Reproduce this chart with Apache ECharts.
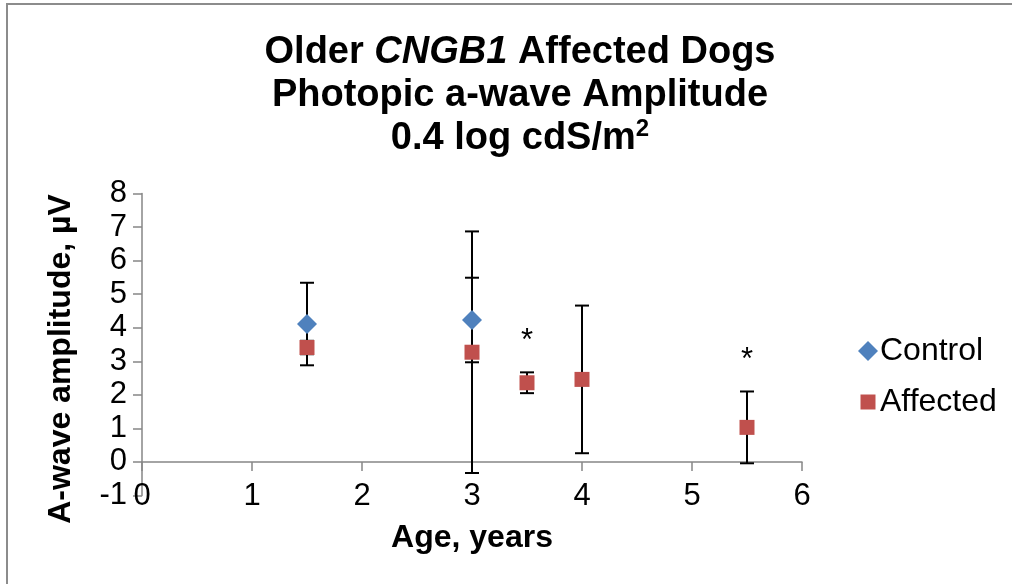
<!DOCTYPE html>
<html>
<head>
<meta charset="utf-8">
<script src="https://cdn.jsdelivr.net/npm/echarts@6/dist/echarts.min.js"></script>
<style>
  html, body { margin: 0; padding: 0; background: #fff; }
  #chart { width: 1012px; height: 584px; }
</style>
</head>
<body>
<div id="chart"></div>
<script>
// Photopic a-wave amplitude (µV) by age (years), mean ± error
const controlAge = [1.5, 3];
const controlMean = [4.11, 4.23];
const controlErr = [1.23, 1.26];

const affectedAge = [1.5, 3, 3.5, 4, 5.5];
const affectedMean = [3.41, 3.27, 2.36, 2.46, 1.03];
const affectedErr = [0.2, 3.6, 0.31, 2.2, 1.07];
// groups marked with a significance asterisk
const affectedSignificant = [0, 0, 1, 0, 1];

const xRange = [0, 6];
const yRange = [-1, 8];

const FONT = '"Liberation Sans", Arial, Helvetica, sans-serif';
const AXIS_GRAY = '#868686';

function errorRows(ages, means, errs, flags) {
  return ages.map((a, i) => [a, means[i] - errs[i], means[i] + errs[i], flags ? flags[i] : 0]);
}

function renderErrorBar(params, api) {
  const x = api.value(0);
  const top = api.coord([x, api.value(2)]);
  const bot = api.coord([x, api.value(1)]);
  const half = 7;
  const s = { stroke: '#000', lineWidth: 2 };
  const children = [
    { type: 'line', shape: { x1: top[0], y1: top[1], x2: bot[0], y2: bot[1] }, style: s },
    { type: 'line', shape: { x1: top[0] - half, y1: top[1], x2: top[0] + half, y2: top[1] }, style: s },
    { type: 'line', shape: { x1: bot[0] - half, y1: bot[1], x2: bot[0] + half, y2: bot[1] }, style: s }
  ];
  if (api.value(3)) {
    children.push({
      type: 'text',
      x: top[0],
      y: top[1] - 31,
      style: { text: '*', font: '31px ' + FONT, fill: '#000', align: 'center', verticalAlign: 'middle' }
    });
  }
  return { type: 'group', children };
}

const chart = echarts.init(document.getElementById('chart'));

chart.setOption({
  backgroundColor: '#fff',
  animation: false,
  title: {
    left: 515,
    top: 26,
    textAlign: 'center',
    text: '{b|Older }{i|CNGB1}{b| Affected Dogs}\n{b|Photopic a-wave Amplitude}\n{b|0.4 log cdS/m}{sup|2}',
    textStyle: {
      rich: {
        b: { fontFamily: FONT, fontWeight: 'bold', fontSize: 38, color: '#000', lineHeight: 43 },
        i: { fontFamily: FONT, fontWeight: 'bold', fontStyle: 'italic', fontSize: 38, color: '#000', lineHeight: 43 },
        sup: { fontFamily: FONT, fontWeight: 'bold', fontSize: 24, color: '#000', lineHeight: 43, verticalAlign: 'top', padding: [0, 0, 14, 0] }
      }
    }
  },
  legend: {
    orient: 'vertical',
    left: 853,
    top: 329,
    itemWidth: 20,
    itemHeight: 20,
    itemGap: 17,
    selectedMode: false,
    textStyle: { fontFamily: FONT, fontSize: 32, color: '#000', lineHeight: 34, padding: [0, 0, 0, -3] },
    data: [
      { name: 'Control', icon: 'diamond' },
      { name: 'Affected', icon: 'path://M0,0M20,20M2.5,2.5L17.5,2.5L17.5,17.5L2.5,17.5Z' }
    ]
  },
  grid: {
    left: 142,
    right: 210,
    top: 193.5,
    bottom: 88.5,
    containLabel: false,
    outerBoundsMode: 'none'
  },
  xAxis: [
    {
      // axis line and ticks crossing at zero
      type: 'value',
      position: 'top',
      min: xRange[0],
      max: xRange[1],
      interval: 1,
      axisLine: { show: true, onZero: true, lineStyle: { color: AXIS_GRAY, width: 1.5 } },
      axisTick: { show: true, inside: true, length: 9, lineStyle: { color: AXIS_GRAY, width: 1.5 } },
      axisLabel: { show: false },
      splitLine: { show: false }
    },
    {
      // tick labels and title along the bottom edge
      type: 'value',
      position: 'bottom',
      min: xRange[0],
      max: xRange[1],
      interval: 1,
      axisLine: { show: false, onZero: false },
      axisTick: { show: false },
      axisLabel: { show: true, margin: 1, verticalAlign: 'middle', fontFamily: FONT, fontSize: 31, color: '#000' },
      splitLine: { show: false },
      name: 'Age, years',
      nameLocation: 'middle',
      nameGap: 43,
      nameTextStyle: { fontFamily: FONT, fontWeight: 'bold', fontSize: 32, color: '#000', verticalAlign: 'middle' }
    }
  ],
  yAxis: {
    type: 'value',
    min: yRange[0],
    max: yRange[1],
    interval: 1,
    axisLine: { show: true, onZero: false, lineStyle: { color: AXIS_GRAY, width: 1.5 } },
    axisTick: { show: true, length: 9, lineStyle: { color: AXIS_GRAY, width: 1.5 } },
    axisLabel: { margin: 15, fontFamily: FONT, fontSize: 31, color: '#000' },
    splitLine: { show: false }
  },
  graphic: [
    {
      type: 'rect',
      silent: true,
      shape: { x: 7, y: 4, width: 1200, height: 800 },
      style: { fill: 'none', stroke: '#8c8c8c', lineWidth: 2 }
    },
    {
      type: 'text',
      silent: true,
      x: 61,
      y: 359,
      rotation: Math.PI / 2,
      style: {
        text: 'A-wave amplitude, µV',
        font: 'bold 32px ' + FONT,
        fill: '#000',
        align: 'center',
        verticalAlign: 'middle'
      }
    }
  ],
  series: [
    {
      name: 'Control error',
      type: 'custom',
      xAxisIndex: 0,
      renderItem: renderErrorBar,
      encode: { x: 0, y: [1, 2] },
      data: errorRows(controlAge, controlMean, controlErr),
      z: 1,
      silent: true
    },
    {
      name: 'Affected error',
      type: 'custom',
      xAxisIndex: 0,
      renderItem: renderErrorBar,
      encode: { x: 0, y: [1, 2] },
      data: errorRows(affectedAge, affectedMean, affectedErr, affectedSignificant),
      z: 1,
      silent: true
    },
    {
      name: 'Control',
      type: 'scatter',
      xAxisIndex: 0,
      symbol: 'diamond',
      symbolSize: 20,
      itemStyle: { color: '#4F81BD', opacity: 1 },
      data: controlAge.map((a, i) => [a, controlMean[i]]),
      z: 3
    },
    {
      name: 'Affected',
      type: 'scatter',
      xAxisIndex: 0,
      symbol: 'rect',
      symbolSize: 15,
      itemStyle: { color: '#C0504D', opacity: 1 },
      data: affectedAge.map((a, i) => [a, affectedMean[i]]),
      z: 3
    }
  ]
});
</script>
</body>
</html>
